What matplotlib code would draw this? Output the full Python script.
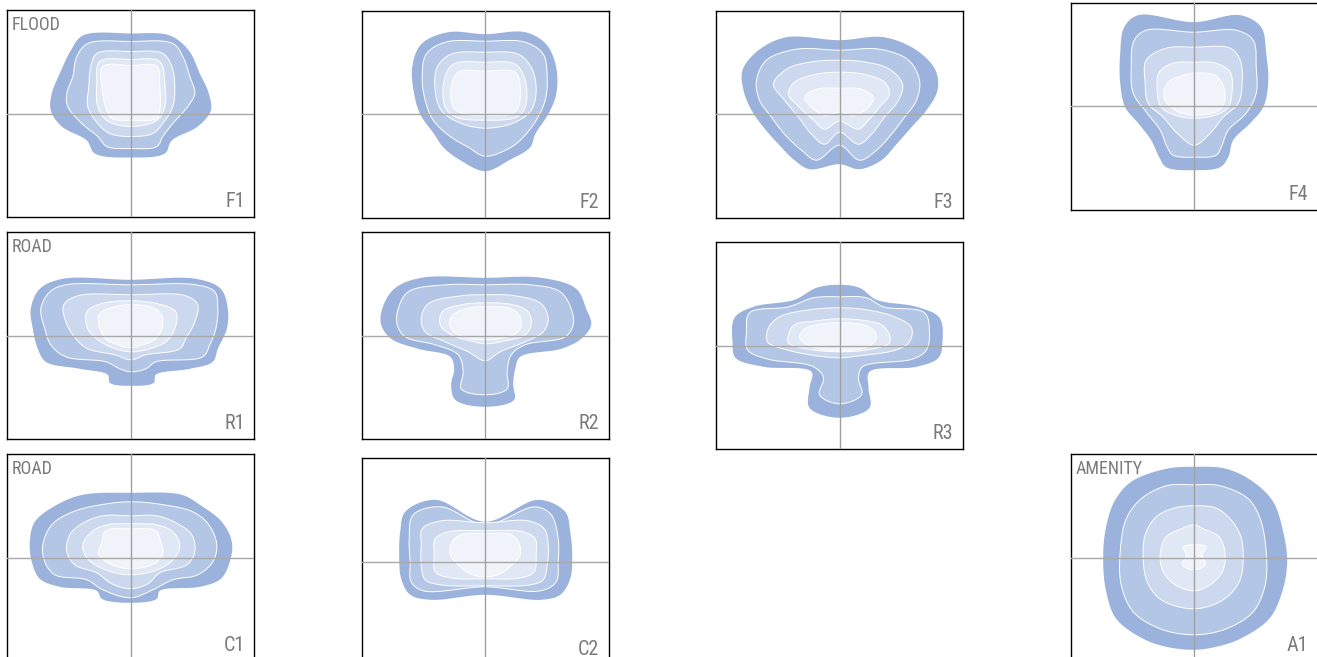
import numpy as np
import matplotlib
matplotlib.use("Agg")
import matplotlib.pyplot as plt
from matplotlib.patches import Polygon

plt.rcParams['font.family'] = ['Roboto Condensed', 'Liberation Sans Narrow', 'DejaVu Sans']
plt.rcParams['font.stretch'] = 'condensed'

# fill colours, outermost contour first
LEVEL_COLORS = ['#9bb3dc', '#b4c6e5', '#ccd8ee', '#e1e8f5', '#f0f4fa']

# contour extents (pixel units, origin at the crosshair)
# *_TOP / *_BOTTOM: where each contour crosses the vertical line
# *_ROWS: (y, left x, right x) down the sides of each contour
F1_TOP = [80, 72, 62, 54, 48]
F1_BOTTOM = [-44, -35, -23, -13, -7]
F1_ROWS = [
    [(78, -48, 39), (63, -60, 58), (40, -71, 69), (20, -79, 78), (3, -80, 80), (-13, -69, 67), (-27, -44, 41), (-40, -36, 34)],
    [(70, -43, 42), (57, -54, 52), (37, -58, 59), (20, -64, 64), (7, -63, 57), (-10, -49, 42), (-23, -33, 32), (-33, -24, 26)],
    [(60, -34, 32), (47, -40, 41), (27, -42, 44), (7, -43, 42), (-10, -33, 32), (-20, -21, 22)],
    [(52, -31, 29), (30, -34, 34), (7, -33, 34), (-7, -24, 26)],
    [(47, -28, 26), (27, -29, 29), (3, -24, 29), (-5, -19, 26)],
]

F2_TOP = [80, 73, 62, 52, 43]
F2_BOTTOM = [-57, -42, -14, -6, -1]
F2_ROWS = [
    [(82, -37, 40), (70, -64, 61), (47, -73, 71), (20, -71, 71), (0, -65, 63), (-20, -51, 50), (-33, -42, 45), (-46, -25, 24)],
    [(72, -40, 40), (60, -59, 58), (37, -63, 62), (14, -60, 60), (-6, -52, 51), (-23, -34, 38), (-33, -17, 26)],
    [(60, -34, 33), (47, -48, 46), (24, -50, 51), (4, -44, 46), (-8, -27, 30)],
    [(50, -32, 30), (34, -41, 40), (7, -40, 40), (-3, -29, 31)],
    [(42, -27, 30), (27, -34, 35), (7, -32, 33), (0, -20, 26)],
]

F3_TOP = [74, 64, 54, 42, 26]
F3_BOTTOM = [-50, -31, -18, -7, 2]
F3_ROWS = [
    [(77, -53, 44), (64, -81, 77), (44, -97, 96), (24, -96, 98), (4, -88, 87), (-13, -76, 72), (-30, -61, 57), (-46, -45, 42), (-55, -30, 20)],
    [(65, -43, 40), (54, -73, 69), (34, -83, 80), (14, -80, 77), (-3, -68, 65), (-20, -55, 52), (-36, -38, 37), (-46, -23, 20)],
    [(52, -30, 27), (45, -53, 50), (30, -66, 63), (14, -55, 59), (-3, -41, 45), (-20, -28, 32), (-30, -15, 19)],
    [(40, -23, 24), (32, -45, 45), (20, -51, 50), (7, -40, 40), (-6, -26, 29), (-15, -15, 19)],
    [(25, -23, 22), (17, -35, 34), (7, -28, 29), (-1, -15, 15)],
]

F4_TOP = [84, 74, 59, 44, 33]
F4_BOTTOM = [-64, -51, -39, -12, -9]
F4_ROWS = [
    [(91, -56, 46), (79, -70, 67), (53, -74, 72), (23, -74, 74), (-1, -69, 69), (-17, -56, 56), (-34, -43, 39), (-51, -35, 34), (-61, -28, 26)],
    [(76, -48, 42), (66, -60, 59), (39, -63, 62), (13, -61, 62), (-7, -47, 52), (-24, -34, 34), (-41, -27, 27), (-49, -21, 22)],
    [(58, -28, 36), (46, -48, 46), (23, -49, 48), (3, -46, 44), (-11, -31, 29), (-27, -17, 16)],
    [(43, -21, 22), (34, -35, 36), (16, -37, 38), (-1, -33, 34), (-9, -19, 21)],
    [(31, -11, 21), (23, -27, 28), (8, -30, 31), (-4, -19, 25)],
]

R1_TOP = [56, 51, 41, 35, 31]
R1_BOTTOM = [-50, -36, -24, -16, -12]
R1_ROWS = [
    [(57, -68, 65), (47, -91, 90), (27, -100, 97), (7, -98, 96), (-13, -93, 87), (-26, -85, 82), (-33, -51, 59), (-39, -23, 25), (-47, -21, 23)],
    [(51, -65, 65), (44, -81, 84), (27, -90, 87), (7, -86, 85), (-9, -80, 79), (-21, -65, 72), (-26, -25, 25), (-33, -11, 15)],
    [(40, -53, 55), (31, -67, 67), (14, -65, 64), (-3, -55, 55), (-13, -43, 49), (-19, -16, 15)],
    [(32, -30, 27), (24, -44, 45), (7, -43, 44), (-6, -30, 35), (-13, -15, 19)],
    [(29, -16, 19), (22, -31, 30), (11, -32, 32), (-3, -25, 25), (-9, -13, 12)],
]

R2_TOP = [58, 51, 41, 33, 29]
R2_BOTTOM = [-71, -59, -25, -8, -4]
R2_ROWS = [
    [(58, -64, 56), (47, -91, 91), (27, -103, 101), (11, -104, 106), (-3, -94, 96), (-13, -67, 76), (-21, -35, 35), (-33, -31, 30), (-49, -34, 28), (-64, -30, 29)],
    [(51, -40, 45), (44, -77, 75), (27, -87, 86), (11, -88, 88), (-1, -80, 80), (-9, -50, 40), (-19, -27, 26), (-36, -22, 22), (-53, -24, 22)],
    [(40, -24, 30), (32, -57, 56), (17, -64, 63), (4, -60, 58), (-6, -40, 40), (-16, -17, 15)],
    [(31, -24, 28), (24, -43, 43), (11, -45, 46), (1, -34, 40), (-5, -15, 20)],
    [(27, -20, 26), (19, -34, 35), (9, -35, 36), (1, -27, 28)],
]

R3_TOP = [61, 49, 38, 27, 23]
R3_BOTTOM = [-72, -58, -12, -6, -5]
R3_ROWS = [
    [(58, -23, 20), (46, -45, 37), (39, -86, 77), (28, -105, 100), (4, -107, 103), (-12, -104, 99), (-21, -76, 77), (-26, -28, 30), (-42, -30, 29), (-62, -30, 30)],
    [(48, -26, 27), (39, -51, 44), (33, -90, 85), (14, -93, 90), (-4, -92, 87), (-13, -73, 74), (-21, -26, 23), (-32, -16, 19), (-49, -20, 22)],
    [(36, -30, 27), (29, -60, 55), (18, -71, 72), (4, -72, 70), (-4, -53, 57), (-10, -23, 20)],
    [(25, -23, 27), (21, -45, 42), (11, -51, 50), (3, -51, 50), (-3, -33, 34)],
    [(21, -23, 24), (16, -36, 34), (8, -40, 37), (0, -30, 30)],
]

C1_TOP = [65, 56, 42, 34, 29]
C1_BOTTOM = [-45, -40, -31, -17, -11]
C1_ROWS = [
    [(63, -48, 51), (53, -74, 69), (36, -96, 91), (16, -101, 101), (-4, -99, 99), (-21, -91, 90), (-29, -71, 69), (-33, -34, 29), (-41, -29, 26)],
    [(54, -24, 26), (46, -58, 62), (33, -79, 78), (13, -88, 86), (-4, -86, 82), (-17, -76, 67), (-22, -44, 42), (-32, -28, 22)],
    [(42, -28, 26), (34, -49, 47), (23, -61, 61), (6, -64, 64), (-7, -56, 56), (-15, -34, 29), (-26, -19, 17)],
    [(33, -24, 26), (26, -39, 42), (13, -48, 49), (0, -44, 44), (-11, -28, 29)],
    [(27, -25, 25), (16, -29, 30), (4, -32, 32), (-6, -21, 23)],
]

C2_TOP = [40, 37, 39, 31, 28]
C2_BOTTOM = [-33, -25, -24, -17, -15]
C2_ROWS = [
    [(62, -50, 53), (50, -80, 80), (30, -85, 85), (7, -86, 87), (-17, -84, 85), (-33, -75, 75), (-38, -54, 56)],
    [(55, -44, 50), (47, -72, 66), (23, -76, 73), (0, -75, 73), (-20, -74, 71), (-29, -62, 55)],
    [(41, -44, 43), (33, -63, 59), (17, -64, 63), (-3, -64, 62), (-18, -60, 58), (-23, -45, 45)],
    [(30, -37, 38), (23, -50, 50), (7, -51, 51), (-10, -50, 49), (-16, -35, 36)],
    [(27, -25, 26), (18, -34, 34), (7, -35, 35), (-3, -27, 27), (-12, -15, 15)],
]

A1_TOP = [91, 73, 52, 33, 13]
A1_BOTTOM = [-92, -77, -51, -33, -12]
A1_ROWS = [
    [(89, -28, 32), (76, -63, 59), (56, -80, 79), (26, -89, 89), (-4, -91, 93), (-34, -88, 88), (-61, -78, 75), (-81, -51, 46), (-89, -28, 22)],
    [(72, -28, 26), (59, -53, 54), (39, -68, 66), (6, -74, 72), (-27, -73, 71), (-54, -61, 59), (-71, -34, 32)],
    [(50, -19, 21), (41, -38, 34), (23, -49, 46), (-1, -51, 49), (-24, -47, 45), (-42, -33, 29)],
    [(29, -13, 9), (21, -28, 25), (3, -34, 31), (-14, -31, 28), (-27, -19, 16)],
    [(11, -11, 12), (3, -8, 8), (-7, -12, 11)],
]

GROUP_LABELS = {'F1': 'FLOOD', 'R1': 'ROAD', 'C1': 'ROAD', 'A1': 'AMENITY'}

panels = {
    'F1': (F1_TOP, F1_BOTTOM, F1_ROWS),
    'F2': (F2_TOP, F2_BOTTOM, F2_ROWS),
    'F3': (F3_TOP, F3_BOTTOM, F3_ROWS),
    'F4': (F4_TOP, F4_BOTTOM, F4_ROWS),
    'R1': (R1_TOP, R1_BOTTOM, R1_ROWS),
    'R2': (R2_TOP, R2_BOTTOM, R2_ROWS),
    'R3': (R3_TOP, R3_BOTTOM, R3_ROWS),
    'C1': (C1_TOP, C1_BOTTOM, C1_ROWS),
    'C2': (C2_TOP, C2_BOTTOM, C2_ROWS),
    'A1': (A1_TOP, A1_BOTTOM, A1_ROWS),
}

# top-left corner of each panel in pixels
panel_pos = {
    'F1': (7.3, 10.0), 'F2': (361.7, 10.7), 'F3': (716.0, 10.7), 'F4': (1070.7, 2.7),
    'R1': (7.3, 232.3), 'R2': (361.7, 232.3), 'R3': (716.0, 242.3),
    'C1': (7.3, 454.3), 'C2': (361.7, 458.3), 'A1': (1070.7, 454.3),
}

W, H = 1317, 657
PW, PH = 247, 207


def smooth_closed(pts, n=14, alpha=0.5):
    # centripetal catmull-rom through the outline points
    P = np.asarray(pts, float)
    N = len(P)
    out = []
    for i in range(N):
        p0, p1, p2, p3 = P[i - 1], P[i], P[(i + 1) % N], P[(i + 2) % N]
        t0 = 0.0
        t1 = t0 + max(np.linalg.norm(p1 - p0), 1e-6) ** alpha
        t2 = t1 + max(np.linalg.norm(p2 - p1), 1e-6) ** alpha
        t3 = t2 + max(np.linalg.norm(p3 - p2), 1e-6) ** alpha
        t = np.linspace(t1, t2, n, endpoint=False)[:, None]
        a1 = (t1 - t) / (t1 - t0) * p0 + (t - t0) / (t1 - t0) * p1
        a2 = (t2 - t) / (t2 - t1) * p1 + (t - t1) / (t2 - t1) * p2
        a3 = (t3 - t) / (t3 - t2) * p2 + (t - t2) / (t3 - t2) * p3
        b1 = (t2 - t) / (t2 - t0) * a1 + (t - t0) / (t2 - t0) * a2
        b2 = (t3 - t) / (t3 - t1) * a2 + (t - t1) / (t3 - t1) * a3
        out.append((t2 - t) / (t2 - t1) * b1 + (t - t1) / (t2 - t1) * b2)
    return np.vstack(out)


fig = plt.figure(figsize=(W / 100, H / 100), dpi=100)

for name, (tops, bottoms, rows) in panels.items():
    px, py = panel_pos[name]
    ax = fig.add_axes([px / W, 1 - (py + PH) / H, PW / W, PH / H])
    ax.set_xlim(-PW / 2, PW / 2)
    ax.set_ylim(-PH / 2, PH / 2)
    ax.set_xticks([])
    ax.set_yticks([])
    for sp in ax.spines.values():
        sp.set_linewidth(1.0)
        sp.set_color('black')

    for lvl in range(len(tops)):
        r = rows[lvl]
        pts = [(0, tops[lvl])] + [(xr, y) for y, xl, xr in r] + \
              [(0, bottoms[lvl])] + [(xl, y) for y, xl, xr in r[::-1]]
        outline = smooth_closed(pts)
        if lvl == 0:
            patch = Polygon(outline, closed=True, facecolor=LEVEL_COLORS[0],
                            edgecolor='none', zorder=1)
        else:
            patch = Polygon(outline, closed=True, facecolor=LEVEL_COLORS[lvl],
                            edgecolor='white', linewidth=0.7, zorder=1 + lvl)
        ax.add_patch(patch)

    ax.axhline(0, color='#a8a8a8', linewidth=1.0, zorder=10)
    ax.axvline(0, color='#a0a0a0', linewidth=1.0, zorder=10)

    if name in GROUP_LABELS:
        ax.text(4.5 / PW, 1 - 5.5 / PH, GROUP_LABELS[name], transform=ax.transAxes,
                ha='left', va='top', fontsize=13, fontstretch='condensed',
                color='#7a7a7a', zorder=11)
    ax.text(1 - 9.5 / PW, 6 / PH, name, transform=ax.transAxes,
            ha='right', va='bottom', fontsize=14.5, fontstretch='condensed',
            color='#7a7a7a', zorder=11)

fig.savefig('out.png', dpi=100)
